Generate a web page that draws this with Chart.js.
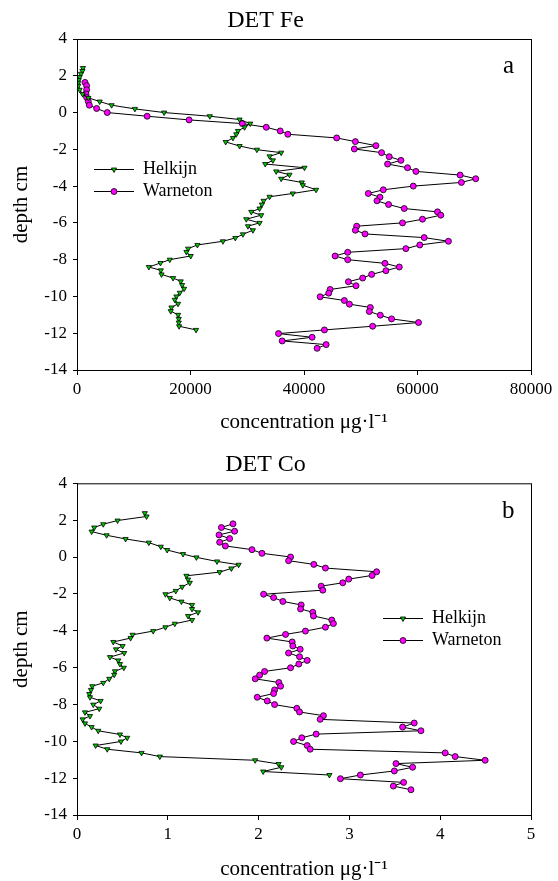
<!DOCTYPE html>
<html>
<head>
<meta charset="utf-8">
<script src="https://cdn.jsdelivr.net/npm/chart.js@4.4.1/dist/chart.umd.min.js"></script>
<style>
  body { margin: 0; background: #fff; }
  canvas { display: block; }
</style>
</head>
<body>
<canvas id="graficoFe" width="558" height="440"></canvas>
<canvas id="graficoCo" width="558" height="441"></canvas>
<script>
// Fe - Helkijn
const feHelkijnDepth = [2.42, 2.26, 2.11, 1.93, 1.77, 1.62, 1.46, 1.24, 1.0, 0.8, 0.6, 0.4, 0.2, 0.0, -0.2, -0.38, -0.6, -0.8, -1.0, -1.18, -1.38, -1.6, -1.82, -2.02, -2.18, -2.38, -2.6, -2.8, -3.0, -3.2, -3.38, -3.6, -3.8, -3.95, -4.2, -4.4, -4.58, -4.8, -5.0, -5.22, -5.4, -5.58, -5.8, -6.0, -6.18, -6.4, -6.62, -6.82, -7.0, -7.2, -7.4, -7.58, -7.8, -8.0, -8.18, -8.4, -8.58, -8.8, -9.0, -9.18, -9.38, -9.58, -9.8, -10.0, -10.18, -10.4, -10.6, -10.8, -11.0, -11.22, -11.42, -11.62, -11.82];
const feHelkijn = [1050, 950, 700, 470, 300, 230, 230, 470, 1000, 2000, 4000, 6100, 10200, 15350, 23400, 28650, 30530, 29530, 28360, 28070, 27480, 26200, 28650, 31700, 35980, 33930, 34520, 33170, 40080, 35100, 37440, 35980, 39610, 39790, 42130, 38030, 33930, 32880, 32580, 32170, 30710, 32460, 29830, 32170, 30120, 31000, 29240, 27900, 25720, 21220, 19580, 19280, 20040, 16350, 14710, 12660, 14770, 14890, 16930, 18280, 18520, 18870, 18110, 17520, 17230, 17810, 16640, 16520, 17810, 17930, 17930, 17990, 20980];

// Fe - Warneton
const feWarnetonDepth = [1.64, 1.46, 1.24, 1.02, 0.82, 0.6, 0.4, 0.22, 0.0, -0.2, -0.4, -0.6, -0.8, -1.0, -1.18, -1.38, -1.58, -1.8, -1.98, -2.18, -2.4, -2.6, -2.8, -3.0, -3.2, -3.4, -3.6, -3.8, -4.0, -4.2, -4.4, -4.6, -4.8, -5.0, -5.22, -5.4, -5.58, -5.8, -6.0, -6.18, -6.4, -6.6, -6.8, -7.0, -7.2, -7.4, -7.6, -7.8, -8.0, -8.2, -8.4, -8.6, -8.8, -9.0, -9.2, -9.42, -9.62, -9.82, -10.02, -10.22, -10.42, -10.6, -10.82, -11.02, -11.22, -11.42, -11.62, -11.82, -12.02, -12.22, -12.42, -12.62, -12.82];
const feWarneton = [1410, 1700, 1700, 1580, 1700, 1990, 2170, 3460, 5330, 12360, 19750, 29130, 33350, 35810, 37150, 45760, 49050, 52680, 48870, 53670, 55020, 57080, 54730, 58240, 59720, 67510, 70260, 67740, 59250, 53970, 51330, 53390, 52860, 54900, 57660, 63520, 64110, 60880, 57360, 49280, 49050, 50750, 61180, 65450, 60410, 57950, 47700, 45480, 47700, 54270, 56790, 54440, 51920, 50340, 47820, 49170, 44600, 44360, 42840, 47110, 48000, 51690, 51510, 53440, 55430, 60180, 52090, 43600, 35510, 41430, 36160, 43900, 42310];

// Co - Helkijn
const coHelkijnDepth = [2.38, 2.2, 1.98, 1.78, 1.6, 1.38, 1.18, 0.98, 0.78, 0.56, 0.38, 0.16, -0.02, -0.24, -0.42, -0.62, -0.82, -1.02, -1.22, -1.4, -1.62, -1.84, -2.02, -2.22, -2.42, -2.6, -2.82, -3.0, -3.2, -3.42, -3.62, -3.81, -4.02, -4.22, -4.4, -4.61, -4.83, -5.01, -5.21, -5.43, -5.61, -5.81, -6.01, -6.2, -6.39, -6.61, -6.83, -7.01, -7.21, -7.43, -7.61, -7.81, -8.01, -8.23, -8.43, -8.63, -8.81, -9.03, -9.23, -9.43, -9.63, -9.81, -10.01, -10.23, -10.43, -10.63, -10.83, -11.03, -11.23, -11.41, -11.64, -11.83];
const coHelkijn = [0.747, 0.766, 0.447, 0.289, 0.19, 0.161, 0.326, 0.535, 0.791, 0.923, 0.993, 1.168, 1.315, 1.542, 1.78, 1.7, 1.571, 1.205, 1.223, 1.242, 1.158, 1.088, 0.974, 1.022, 1.15, 1.267, 1.267, 1.333, 1.223, 1.267, 1.077, 0.974, 0.839, 0.612, 0.59, 0.4, 0.502, 0.429, 0.52, 0.363, 0.454, 0.473, 0.516, 0.418, 0.41, 0.355, 0.289, 0.168, 0.154, 0.135, 0.143, 0.26, 0.179, 0.245, 0.088, 0.143, 0.062, 0.088, 0.161, 0.234, 0.473, 0.553, 0.484, 0.205, 0.333, 0.711, 0.912, 1.962, 2.22, 2.25, 2.05, 2.78];

// Co - Warneton
const coWarnetonDepth = [1.8, 1.6, 1.4, 1.2, 1.0, 0.8, 0.6, 0.4, 0.2, 0.0, -0.2, -0.4, -0.6, -0.8, -1.0, -1.2, -1.4, -1.58, -1.8, -2.02, -2.2, -2.41, -2.6, -2.82, -3.0, -3.2, -3.42, -3.61, -3.81, -4.02, -4.2, -4.4, -4.61, -4.83, -5.01, -5.21, -5.41, -5.61, -5.81, -6.01, -6.21, -6.41, -6.61, -6.81, -7.01, -7.21, -7.41, -7.61, -7.81, -8.01, -8.21, -8.41, -8.61, -8.81, -9.01, -9.23, -9.43, -9.61, -9.81, -10.01, -10.23, -10.43, -10.63, -10.83, -11.03, -11.21, -11.41, -11.61, -11.83, -12.03, -12.23, -12.43, -12.63];
const coWarneton = [1.718, 1.59, 1.736, 1.564, 1.681, 1.571, 1.634, 1.927, 2.037, 2.352, 2.33, 2.608, 2.736, 3.3, 3.25, 2.993, 2.927, 2.689, 2.707, 2.055, 2.165, 2.267, 2.469, 2.462, 2.597, 2.604, 2.806, 2.824, 2.736, 2.516, 2.297, 2.091, 2.37, 2.377, 2.458, 2.33, 2.451, 2.535, 2.443, 2.352, 2.066, 2.011, 1.963, 2.223, 2.242, 2.176, 2.165, 1.985, 2.095, 2.176, 2.421, 2.451, 2.714, 2.678, 3.714, 3.586, 3.788, 2.634, 2.476, 2.385, 2.535, 2.568, 4.055, 4.165, 4.495, 3.513, 3.696, 3.495, 3.121, 2.901, 3.597, 3.484, 3.678];

// eixos
const depthTicks = [4, 2, 0, -2, -4, -6, -8, -10, -12, -14];
const feTicks = [0, 20000, 40000, 60000, 80000];
const coTicks = [0, 1, 2, 3, 4, 5];

const serif = '"Liberation Serif", "Times New Roman", serif';
Chart.defaults.color = '#000';
Chart.defaults.font.family = serif;

function pontos(xs, ys) {
  return xs.map((v, i) => ({ x: v, y: ys[i] }));
}

const estiloHelkijn = {
  label: 'Helkijn',
  showLine: true,
  borderColor: '#000',
  borderWidth: 1,
  pointStyle: 'triangle',
  rotation: 180,
  radius: 3,
  pointRadius: 3,
  pointBackgroundColor: '#00c800',
  pointBorderColor: '#000',
  pointBorderWidth: 0.8,
  tension: 0
};
const estiloWarneton = {
  label: 'Warneton',
  showLine: true,
  borderColor: '#000',
  borderWidth: 1,
  pointStyle: 'circle',
  rotation: 0,
  radius: 3,
  pointRadius: 3,
  pointBackgroundColor: '#ff00ff',
  pointBorderColor: '#000',
  pointBorderWidth: 0.8,
  tension: 0
};

// caixa, legenda e letra do painel
const painelPlugin = {
  id: 'painel',
  afterDraw(chart, args, opts) {
    const ctx = chart.ctx;
    const a = chart.chartArea;
    ctx.save();
    ctx.strokeStyle = '#000';
    ctx.lineWidth = 1;
    ctx.strokeRect(a.left + 0.5, a.top + 0.5, a.right - a.left, a.bottom - a.top);

    // legenda
    chart.data.datasets.forEach((ds, i) => {
      const y = opts.legendY + i * opts.legendGap;
      ctx.beginPath();
      ctx.moveTo(opts.legendX, y);
      ctx.lineTo(opts.legendX + 40, y);
      ctx.strokeStyle = '#000';
      ctx.lineWidth = 1;
      ctx.stroke();
      ctx.fillStyle = ds.pointBackgroundColor;
      ctx.strokeStyle = '#000';
      ctx.lineWidth = 0.8;
      Chart.helpers.drawPoint(ctx, { pointStyle: ds.pointStyle, rotation: ds.rotation, radius: 3, borderWidth: 0.8 }, opts.legendX + 20, y);
      ctx.fillStyle = '#000';
      ctx.font = '18px ' + serif;
      ctx.textBaseline = 'middle';
      ctx.textAlign = 'left';
      ctx.fillText(ds.label, opts.legendX + 49, y);
    });

    ctx.font = '25px ' + serif;
    ctx.textBaseline = 'alphabetic';
    ctx.fillText(opts.letra, opts.letraX, opts.letraY);
    ctx.restore();
  }
};

function criarGrafico(id, cfg) {
  const ctx = document.getElementById(id).getContext('2d');
  return new Chart(ctx, {
    type: 'scatter',
    data: {
      datasets: [
        Object.assign({ data: pontos(cfg.hx, cfg.hy) }, estiloHelkijn),
        Object.assign({ data: pontos(cfg.wx, cfg.wy) }, estiloWarneton)
      ]
    },
    plugins: [painelPlugin],
    options: {
      responsive: false,
      animation: false,
      layout: { padding: { left: 0, right: 27, top: 0, bottom: 0 } },
      plugins: {
        legend: { display: false },
        tooltip: { enabled: false },
        title: {
          display: true,
          text: cfg.titulo,
          color: '#000',
          font: { family: serif, size: 24, weight: 'normal', lineHeight: 1.2 },
          padding: cfg.tituloPad
        },
        painel: cfg.painel
      },
      scales: {
        x: {
          type: 'linear',
          min: cfg.xTicks[0],
          max: cfg.xTicks[cfg.xTicks.length - 1],
          afterBuildTicks: (s) => { s.ticks = cfg.xTicks.map(v => ({ value: v })); },
          afterFit: (s) => { s.height = cfg.xAltura; },
          grid: { drawOnChartArea: false, drawTicks: true, tickLength: 5, color: '#000' },
          border: { display: true, color: '#000', width: 1 },
          ticks: {
            padding: 4,
            font: { family: serif, size: 17 },
            callback: (v) => String(v)
          },
          title: {
            display: true,
            text: 'concentration μg·l⁻¹',
            font: { family: serif, size: 21, lineHeight: 1 },
            padding: { top: 0, bottom: cfg.xTituloPad }
          }
        },
        y: {
          type: 'linear',
          min: -14,
          max: 4,
          afterBuildTicks: (s) => { s.ticks = depthTicks.map(v => ({ value: v })); },
          afterFit: (s) => { s.width = 77; },
          grid: { drawOnChartArea: false, drawTicks: true, tickLength: 4, color: '#000' },
          border: { display: true, color: '#000', width: 1 },
          ticks: {
            padding: 6,
            font: { family: serif, size: 17 },
            callback: (v) => String(v)
          },
          title: {
            display: true,
            text: 'depth cm',
            font: { family: serif, size: 21, lineHeight: 1 },
            padding: { top: 11, bottom: 0 }
          }
        }
      }
    }
  });
}

criarGrafico('graficoFe', {
  titulo: 'DET Fe',
  tituloPad: { top: 6.6, bottom: 3.6 },
  hx: feHelkijn, hy: feHelkijnDepth,
  wx: feWarneton, wy: feWarnetonDepth,
  xTicks: feTicks,
  xAltura: 70,
  xTituloPad: 6.6,
  painel: { legendX: 94, legendY: 169.5, legendGap: 22, letra: 'a', letraX: 503, letraY: 73 }
});

criarGrafico('graficoCo', {
  titulo: 'DET Co',
  tituloPad: { top: 10.6, bottom: 3.9 },
  hx: coHelkijn, hy: coHelkijnDepth,
  wx: coWarneton, wy: coWarnetonDepth,
  xTicks: coTicks,
  xAltura: 66,
  xTituloPad: 0.6,
  painel: { legendX: 383, legendY: 178.5, legendGap: 22, letra: 'b', letraX: 502, letraY: 78 }
});
</script>
</body>
</html>
